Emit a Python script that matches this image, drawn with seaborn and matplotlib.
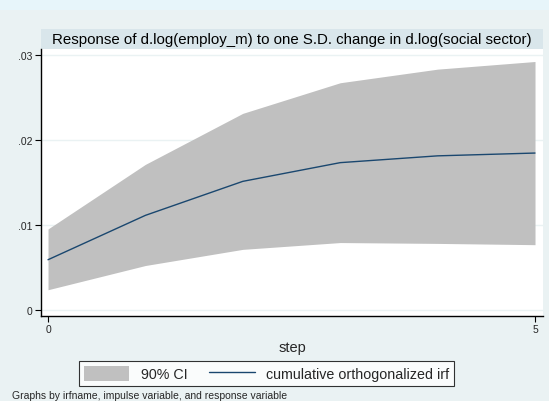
import matplotlib
matplotlib.use("Agg")
import matplotlib.pyplot as plt
import seaborn as sns
import pandas as pd
from matplotlib.patches import Patch
from matplotlib.lines import Line2D
from matplotlib.ticker import FuncFormatter

steps = [0, 1, 2, 3, 4, 5]
irf = [0.00588, 0.0111, 0.0151, 0.0173, 0.0181, 0.01843]
ci_upper = [0.0095, 0.0171, 0.0231, 0.0267, 0.0283, 0.0292]
ci_lower = [0.00235, 0.0052, 0.0071, 0.0079, 0.0078, 0.00765]

title = "Response of d.log(employ_m) to one S.D. change in d.log(social sector)"
note = "Graphs by irfname, impulse variable, and response variable"

sns.set_style("white")
plt.rcParams['font.family'] = ['Liberation Sans', 'DejaVu Sans']

W, H = 549, 402
fig = plt.figure(figsize=(W / 100, H / 100), dpi=100)
fig.patch.set_facecolor("#eaf2f3")

def box(x0, y0, x1, y1):
    return [x0 / W, 1 - y1 / H, (x1 - x0) / W, (y1 - y0) / H]

# top lighter band
band = fig.add_axes(box(0, 0, W, 10.5))
band.set_facecolor("#e7f5fa")
band.set_xticks([]); band.set_yticks([])
for s in band.spines.values():
    s.set_visible(False)

# title strip
strip = fig.add_axes(box(41, 30, 543, 50))
strip.set_facecolor("#d9e6eb")
strip.set_xticks([]); strip.set_yticks([])
for s in strip.spines.values():
    s.set_visible(False)
strip.text(0.5, 0.5, title, ha="center", va="center", fontsize=10.8, color="black",
           transform=strip.transAxes)

ax = fig.add_axes(box(41, 50, 543, 317))
ax.set_facecolor("white")
df = pd.DataFrame({"step": steps, "irf": irf, "lo": ci_lower, "hi": ci_upper})
ax.fill_between(df["step"], df["lo"], df["hi"], color="#c0c0c0", linewidth=0, zorder=2)
sns.lineplot(data=df, x="step", y="irf", ax=ax, color="#1a476f", linewidth=1.0, zorder=3)

ax.set_xlim(-0.072, 5.082)
ax.set_ylim(-0.00074, 0.03067)
ax.set_xticks([0, 5])
ax.set_yticks([0, 0.01, 0.02, 0.03])
ax.yaxis.set_major_formatter(FuncFormatter(lambda v, p: "0" if v == 0 else ("%.2f" % v).lstrip("0")))
ax.grid(axis="y", color="#eaf2f3", linewidth=1.0, zorder=1)
ax.set_axisbelow(True)
for s in ["top", "right"]:
    ax.spines[s].set_visible(False)
for s in ["left", "bottom"]:
    ax.spines[s].set_color("black")
    ax.spines[s].set_linewidth(1.0)
ax.tick_params(axis="both", direction="out", length=4, width=0.8, labelsize=7.5,
               color="black", pad=2, left=True, bottom=True)
ax.set_xlabel("step", fontsize=10.5, va="center")
ax.xaxis.set_label_coords(0.5, -31 / 267)
ax.set_ylabel("")

handles = [Patch(facecolor="#c0c0c0", edgecolor="none"),
           Line2D([], [], color="#1a476f", linewidth=1.0)]
labels = ["90% CI", "cumulative orthogonalized irf"]
leg = fig.legend(handles, labels, loc="center", ncol=2,
                 bbox_to_anchor=(266.5 / W, 1 - 374.5 / H), fontsize=10.3,
                 frameon=True, fancybox=False, edgecolor="black",
                 handlelength=3.2, handleheight=1.2, columnspacing=1.5, borderpad=0.35)
leg.get_frame().set_linewidth(0.8)
leg.get_frame().set_facecolor("white")

fig.text(12 / W, 1 - 396 / H, note, fontsize=7.5, va="center", ha="left")

fig.savefig("out.png", dpi=100, facecolor=fig.get_facecolor())
